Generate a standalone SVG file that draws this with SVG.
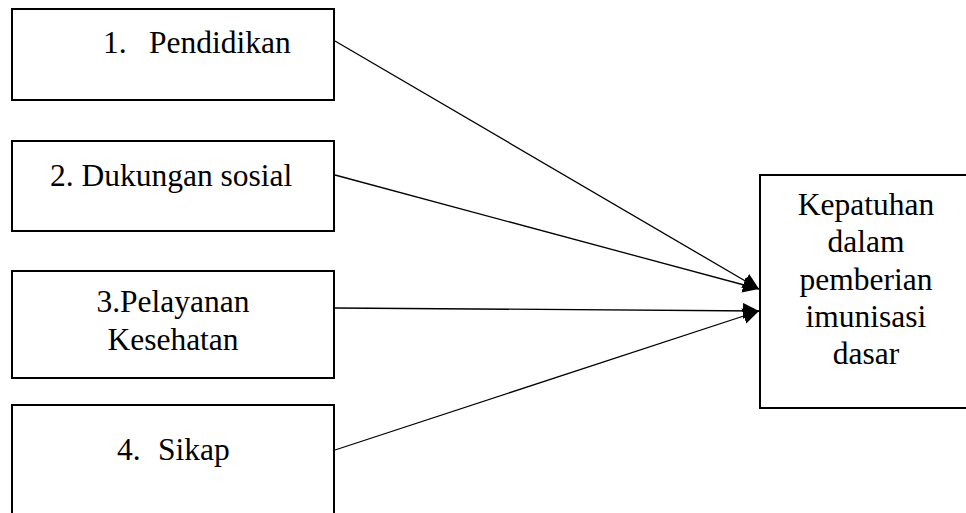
<svg xmlns="http://www.w3.org/2000/svg" width="966" height="513" viewBox="0 0 966 513">
<style>
.box{fill:#fff;stroke:#000;stroke-width:2}
.t{font-family:"Liberation Serif","Times New Roman",Times,serif;font-size:31.5px;fill:#000}
.c{stroke:#000;stroke-width:1.3;fill:none;marker-end:url(#ah)}
</style>
<defs>
<marker id="ah" markerUnits="userSpaceOnUse" markerWidth="17" markerHeight="17" refX="16" refY="8" orient="auto">
<path d="M0,0 L16,8 L0,16 z" fill="#000"/>
</marker>
</defs>
<rect width="966" height="513" fill="#fff"/>
<g id="n1">
<rect class="box" x="12" y="9" width="322" height="91"/>
<text class="t" y="53"><tspan x="103">1.</tspan><tspan x="149">Pendidikan</tspan></text>
</g>
<g id="n2">
<rect class="box" x="12" y="141" width="322" height="90"/>
<text class="t" x="50" y="186">2. Dukungan sosial</text>
</g>
<g id="n3">
<rect class="box" x="12" y="271" width="322" height="107"/>
<text class="t" text-anchor="middle"><tspan x="173" y="312">3.Pelayanan</tspan><tspan x="173" y="350">Kesehatan</tspan></text>
</g>
<g id="n4">
<rect class="box" x="12" y="405" width="322" height="120"/>
<text class="t" y="460"><tspan x="117">4.</tspan><tspan x="158">Sikap</tspan></text>
</g>
<g id="n5">
<rect class="box" x="760" y="175" width="230" height="233"/>
<text class="t" text-anchor="middle"><tspan x="866" y="215">Kepatuhan</tspan><tspan x="866" y="252">dalam</tspan><tspan x="866" y="290">pemberian</tspan><tspan x="866" y="327">imunisasi</tspan><tspan x="866" y="364">dasar</tspan></text>
</g>
<g id="connectors">
<line class="c" x1="335" y1="41" x2="759" y2="289"/>
<line class="c" x1="335" y1="175" x2="759" y2="289"/>
<line class="c" x1="335" y1="308" x2="759" y2="311"/>
<line class="c" x1="335" y1="450" x2="759" y2="311"/>
</g>
</svg>
